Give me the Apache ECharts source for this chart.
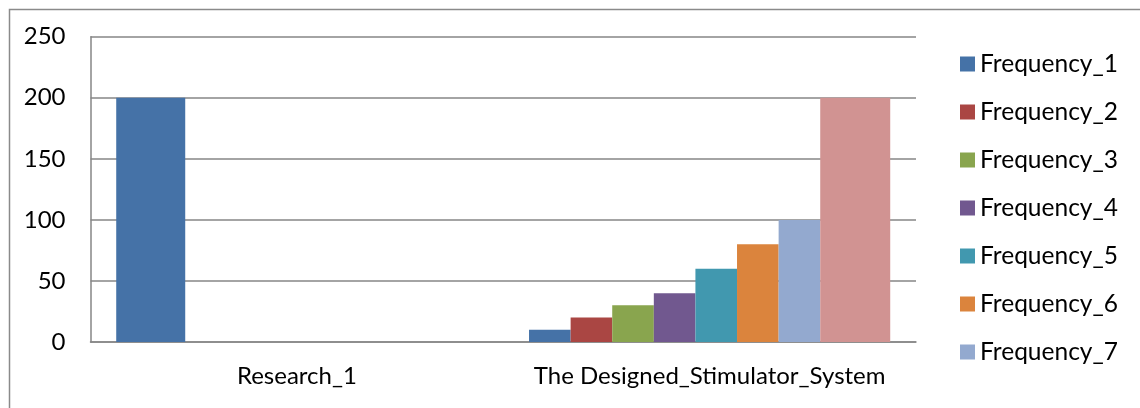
<!DOCTYPE html>
<html>
<head>
<meta charset="utf-8">
<script src="https://cdn.jsdelivr.net/npm/echarts@6/dist/echarts.min.js"></script>
<style>
html,body{margin:0;padding:0;background:#fff;}
#c{width:1140px;height:408px;}
</style>
</head>
<body>
<div id="c"></div>
<script>
const categories = ['Research_1', 'The Designed_Stimulator_System'];
const seriesNames = ['Frequency_1','Frequency_2','Frequency_3','Frequency_4','Frequency_5','Frequency_6','Frequency_7','Frequency_8'];
const research1Values = [200, 0, 0, 0, 0, 0, 0, 0];
const designedValues = [10, 20, 30, 40, 60, 80, 100, 200];
const legendNames = ['Frequency_1','Frequency_2','Frequency_3','Frequency_4','Frequency_5','Frequency_6','Frequency_7'];
const yTicks = [0, 50, 100, 150, 200, 250];

const colors = ['#4572A7','#AA4643','#89A54E','#71588F','#4198AF','#DB843D','#93A9CF','#D19392'];
const FONT = 'Lato';

const series = [];
// Designed system group (visible axis)
seriesNames.forEach((n, i) => {
  series.push({
    name: n, type: 'bar', xAxisIndex: 0, yAxisIndex: 0,
    barWidth: i === 7 ? 70 : 41.6, barGap: 0,
    itemStyle: { color: colors[i] },
    data: [null, designedValues[i]]
  });
});
// Research_1 group (nonzero values only), laid out on an overlaid hidden axis
series.push({
  name: 'Frequency_1', type: 'bar', xAxisIndex: 1, yAxisIndex: 0,
  barWidth: 69, barGap: 0,
  itemStyle: { color: colors[0] },
  data: [research1Values[0], null]
});
series.push({
  name: '_pad', type: 'bar', xAxisIndex: 1, yAxisIndex: 0,
  barWidth: 292.3, barGap: 0,
  itemStyle: { color: 'transparent' },
  data: [null, null]
});

const chart = echarts.init(document.getElementById('c'), null, { renderer: 'canvas' });
chart.setOption({
  animation: false,
  backgroundColor: '#fff',
  graphic: [{
    type: 'rect', left: 7, top: 7, silent: true,
    shape: { x: 0, y: 0, width: 1300, height: 600 },
    style: { fill: 'none', stroke: '#8a8a8a', lineWidth: 1.5 }
  }],
  grid: { left: 90.5, right: 224, top: 36.7, bottom: 66 },
  legend: {
    data: legendNames,
    orient: 'vertical',
    left: 955, top: 45,
    itemWidth: 15, itemHeight: 15, itemGap: 20,
    icon: 'rect',
    textStyle: { fontFamily: FONT, fontSize: 24.5, color: '#000', lineHeight: 28 }
  },
  xAxis: [{
    type: 'category', data: categories,
    axisLine: { show: true, lineStyle: { color: '#868686', width: 1.5 } },
    axisTick: { show: false },
    axisLabel: { fontFamily: FONT, fontSize: 24, color: '#000', margin: 22, interval: 0 },
    splitLine: { show: false }
  }, {
    type: 'category', data: categories, show: false, position: 'bottom'
  }],
  yAxis: {
    type: 'value', min: yTicks[0], max: yTicks[yTicks.length-1], interval: 50,
    axisLine: { show: true, lineStyle: { color: '#868686', width: 1.5 } },
    axisTick: { show: false },
    axisLabel: { fontFamily: FONT, fontSize: 24, color: '#000', margin: 25 },
    splitLine: { show: true, lineStyle: { color: '#868686', width: 1.5 } }
  },
  series: series
});
</script>
</body>
</html>
